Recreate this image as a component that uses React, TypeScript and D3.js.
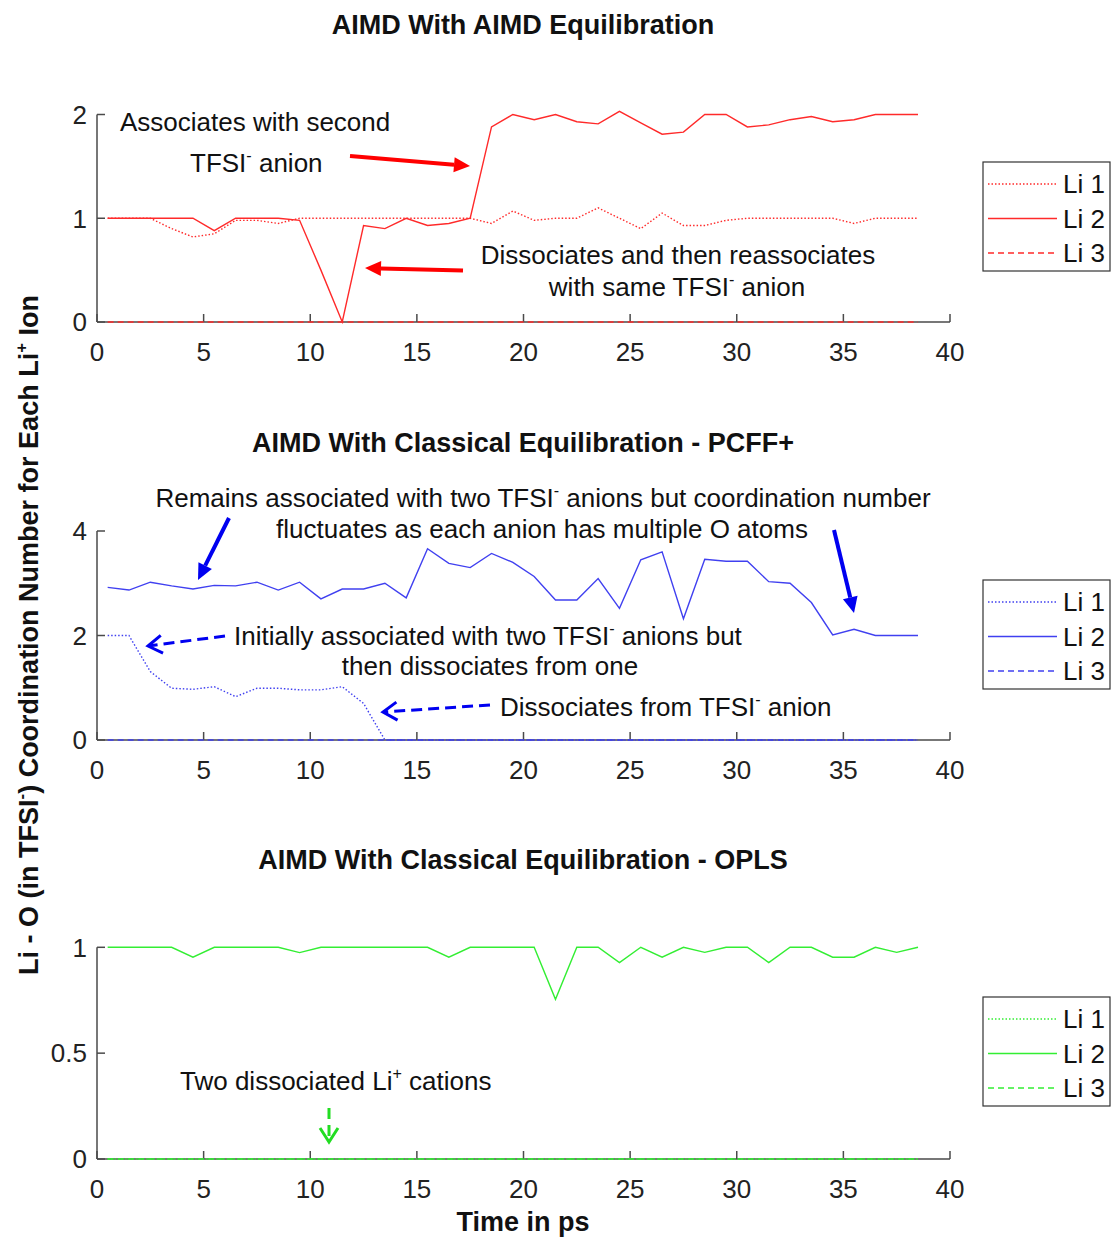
import React from "react";
import * as d3 from "d3";

// ---------- DATA ----------
const TIME = [0.5, 1.5, 2.5, 3.5, 4.5, 5.5, 6.5, 7.5, 8.5, 9.5, 10.5, 11.5, 12.5, 13.5, 14.5, 15.5, 16.5, 17.5, 18.5, 19.5,
  20.5, 21.5, 22.5, 23.5, 24.5, 25.5, 26.5, 27.5, 28.5, 29.5, 30.5, 31.5, 32.5, 33.5, 34.5, 35.5, 36.5, 37.5, 38.5];

const AIMD_LI1 = [1, 1, 1, 0.9, 0.82, 0.85, 0.98, 0.98, 0.95, 1, 1, 1, 1, 1, 1, 1, 1, 1, 0.95, 1.07,
  0.98, 1, 1, 1.1, 1.0, 0.9, 1.05, 0.93, 0.93, 0.98, 1, 1, 1, 1, 1, 0.95, 1, 1, 1];
const AIMD_LI2 = [1, 1, 1, 1, 1, 0.88, 1, 1, 1, 0.98, 0.5, 0, 0.93, 0.9, 1.0, 0.93, 0.95, 1.0, 1.88, 2.0,
  1.95, 2.0, 1.93, 1.91, 2.03, 1.92, 1.81, 1.83, 2.0, 2.0, 1.88, 1.9, 1.95, 1.98, 1.93, 1.95, 2.0, 2.0, 2.0];
const AIMD_LI3 = [0, 0, 0, 0, 0, 0, 0, 0, 0, 0, 0, 0, 0, 0, 0, 0, 0, 0, 0, 0,
  0, 0, 0, 0, 0, 0, 0, 0, 0, 0, 0, 0, 0, 0, 0, 0, 0, 0, 0];

const PCFF_LI1 = [2.0, 2.0, 1.31, 0.99, 0.97, 1.02, 0.83, 0.99, 0.99, 0.96, 0.96, 1.02, 0.7, 0, 0, 0, 0, 0, 0, 0,
  0, 0, 0, 0, 0, 0, 0, 0, 0, 0, 0, 0, 0, 0, 0, 0, 0, 0, 0];
const PCFF_LI2 = [2.92, 2.87, 3.02, 2.95, 2.89, 2.96, 2.95, 3.02, 2.87, 3.02, 2.7, 2.89, 2.89, 3.0, 2.72, 3.66, 3.38, 3.3, 3.57, 3.4,
  3.13, 2.68, 2.68, 3.09, 2.52, 3.45, 3.6, 2.32, 3.46, 3.42, 3.42, 3.03, 3.0, 2.63, 2.01, 2.12, 2.0, 2.0, 2.0];
const PCFF_LI3 = [0, 0, 0, 0, 0, 0, 0, 0, 0, 0, 0, 0, 0, 0, 0, 0, 0, 0, 0, 0,
  0, 0, 0, 0, 0, 0, 0, 0, 0, 0, 0, 0, 0, 0, 0, 0, 0, 0, 0];

const OPLS_LI1 = [0, 0, 0, 0, 0, 0, 0, 0, 0, 0, 0, 0, 0, 0, 0, 0, 0, 0, 0, 0,
  0, 0, 0, 0, 0, 0, 0, 0, 0, 0, 0, 0, 0, 0, 0, 0, 0, 0, 0];
const OPLS_LI2 = [1, 1, 1, 1, 0.953, 1, 1, 1, 1, 0.975, 1, 1, 1, 1, 1, 1, 0.953, 1, 1, 1,
  1, 0.754, 1, 1, 0.928, 1, 0.953, 1, 0.976, 1, 1, 0.928, 1, 1, 0.953, 0.953, 1, 0.976, 1];
const OPLS_LI3 = [0, 0, 0, 0, 0, 0, 0, 0, 0, 0, 0, 0, 0, 0, 0, 0, 0, 0, 0, 0,
  0, 0, 0, 0, 0, 0, 0, 0, 0, 0, 0, 0, 0, 0, 0, 0, 0, 0, 0];

const SERIES_NAMES = ["Li 1", "Li 2", "Li 3"];
const X_TICKS = [0, 5, 10, 15, 20, 25, 30, 35, 40];
const TITLES = [
  "AIMD With AIMD Equilibration",
  "AIMD With Classical Equilibration - PCFF+",
  "AIMD With Classical Equilibration - OPLS",
];
const X_LABEL = "Time in ps";

// ---------- LAYOUT ----------
const FONT = "'Liberation Sans', Arial, Helvetica, sans-serif";
const X_LEFT = 97;
const X_RIGHT = 950;
const FS = 26; // regular text size
const BFS = 27; // bold title size

type Part = [string, boolean?];

const PANELS = [
  {
    title: TITLES[0], titleY: 34, yBottom: 322, yTop: 114.5, domain: [0, 2], ticks: [0, 1, 2],
    color: "#ff2a2a", series: [AIMD_LI1, AIMD_LI2, AIMD_LI3], legendTop: 162,
  },
  {
    title: TITLES[1], titleY: 452, yBottom: 740, yTop: 531, domain: [0, 4], ticks: [0, 2, 4],
    color: "#4040f0", series: [PCFF_LI1, PCFF_LI2, PCFF_LI3], legendTop: 580,
  },
  {
    title: TITLES[2], titleY: 869, yBottom: 1159, yTop: 947.3, domain: [0, 1], ticks: [0, 0.5, 1],
    color: "#33ee33", series: [OPLS_LI1, OPLS_LI2, OPLS_LI3], legendTop: 997,
  },
];

const DASHES = ["1.5,2", undefined, "6,4"];

function Rich({ x, y, parts, size = FS, anchor = "start", weight = "normal", transform }: any) {
  const out: any[] = [];
  let raised = false;
  parts.forEach((p: Part, i: number) => {
    const [txt, sup] = p;
    if (sup) {
      out.push(<tspan key={i} dy={-size * 0.42} fontSize={size * 0.62}>{txt}</tspan>);
      raised = true;
    } else {
      out.push(<tspan key={i} dy={raised ? size * 0.42 : 0}>{txt}</tspan>);
      raised = false;
    }
  });
  return (
    <text x={x} y={y} fontSize={size} textAnchor={anchor} fontWeight={weight} fill="#111" fontFamily={FONT} transform={transform}>
      {out}
    </text>
  );
}

function SolidArrow({ x1, y1, x2, y2, color }: any) {
  const ang = Math.atan2(y2 - y1, x2 - x1);
  const L = 16, W = 7.5;
  const bx = x2 - L * Math.cos(ang), by = y2 - L * Math.sin(ang);
  const px = -Math.sin(ang) * W, py = Math.cos(ang) * W;
  return (
    <g>
      <line x1={x1} y1={y1} x2={bx} y2={by} stroke={color} strokeWidth={4} />
      <polygon points={`${x2},${y2} ${bx + px},${by + py} ${bx - px},${by - py}`} fill={color} />
    </g>
  );
}

function DashedArrow({ x1, y1, x2, y2, color }: any) {
  const ang = Math.atan2(y2 - y1, x2 - x1);
  const L = 14, W = 9;
  const bx = x2 - L * Math.cos(ang), by = y2 - L * Math.sin(ang);
  const px = -Math.sin(ang) * W, py = Math.cos(ang) * W;
  return (
    <g fill="none" stroke={color} strokeWidth={3}>
      <line x1={x1} y1={y1} x2={x2 - 2 * Math.cos(ang)} y2={y2 - 2 * Math.sin(ang)} strokeDasharray="11,6" />
      <polyline points={`${bx + px},${by + py} ${x2},${y2} ${bx - px},${by - py}`} />
    </g>
  );
}

function Panel({ p }: any) {
  const x = d3.scaleLinear().domain([0, 40]).range([X_LEFT, X_RIGHT]);
  const y = d3.scaleLinear().domain(p.domain).range([p.yBottom, p.yTop]);
  const line = d3.line<number>().x((_, i) => x(TIME[i])).y((v) => y(v));
  const axisColor = "#4a4a4a";
  return (
    <g>
      <text x={523} y={p.titleY} textAnchor="middle" fontSize={BFS} fontWeight="bold" fontFamily={FONT} fill="#111">{p.title}</text>
      {/* axes */}
      <line x1={X_LEFT} y1={p.yBottom} x2={X_RIGHT} y2={p.yBottom} stroke={axisColor} strokeWidth={1.5} />
      <line x1={X_LEFT} y1={p.yBottom} x2={X_LEFT} y2={p.yTop} stroke={axisColor} strokeWidth={1.5} />
      {X_TICKS.map((t) => (
        <g key={t}>
          <line x1={x(t)} x2={x(t)} y1={p.yBottom} y2={p.yBottom - 8} stroke={axisColor} strokeWidth={1.5} />
          <text x={x(t)} y={p.yBottom + 39} textAnchor="middle" fontSize={FS} fontFamily={FONT} fill="#222">{t}</text>
        </g>
      ))}
      {p.ticks.map((t: number) => (
        <g key={t}>
          <line x1={X_LEFT} x2={X_LEFT + 8} y1={y(t)} y2={y(t)} stroke={axisColor} strokeWidth={1.5} />
          <text x={X_LEFT - 10} y={y(t) + 9.3} textAnchor="end" fontSize={FS} fontFamily={FONT} fill="#222">{t}</text>
        </g>
      ))}
      {/* series */}
      {p.series.map((s: number[], i: number) => (
        <path key={i} d={line(s) || ""} fill="none" stroke={p.color} strokeWidth={1.4}
          strokeDasharray={DASHES[i]} />
      ))}
      {/* legend */}
      <rect x={983} y={p.legendTop} width={127} height={109} fill="white" stroke="#333" strokeWidth={1.2} />
      {SERIES_NAMES.map((n, i) => {
        const ly = p.legendTop + 22 + i * 34.5;
        return (
          <g key={n}>
            <line x1={988} x2={1057} y1={ly} y2={ly} stroke={p.color} strokeWidth={1.4} strokeDasharray={DASHES[i]} />
            <text x={1063} y={ly + 9.3} fontSize={FS} fontFamily={FONT} fill="#111">{n}</text>
          </g>
        );
      })}
    </g>
  );
}

export default function App() {
  return (
    <svg width={1114} height={1238} style={{ position: "absolute", left: 0, top: 0, background: "white" }}>
      <rect width={1114} height={1238} fill="white" />
      {PANELS.map((p, i) => <Panel key={i} p={p} />)}

      {/* y-axis label */}
      <Rich x={0} y={0} size={27} weight="bold" anchor="middle" transform="translate(38,635) rotate(-90)"
        parts={[["Li - O (in TFSI"], ["-", true], [") Coordination Number for Each Li"], ["+", true], [" Ion"]]} />

      <text x={523} y={1231} textAnchor="middle" fontSize={BFS} fontWeight="bold" fontFamily={FONT} fill="#111">{X_LABEL}</text>

      {/* top annotations */}
      <Rich x={120} y={130.5} parts={[["Associates with second"]]} />
      <Rich x={190} y={171.5} parts={[["TFSI"], ["-", true], [" anion"]]} />
      <Rich x={678} y={263.5} anchor="middle" parts={[["Dissociates and then reassociates"]]} />
      <Rich x={677} y={295.5} anchor="middle" parts={[["with same TFSI"], ["-", true], [" anion"]]} />
      <SolidArrow x1={350} y1={156} x2={470} y2={166} color="#ff0000" />
      <SolidArrow x1={463} y1={270.5} x2={365} y2={268} color="#ff0000" />

      {/* middle annotations */}
      <Rich x={543} y={506.5} anchor="middle" parts={[["Remains associated with two TFSI"], ["-", true], [" anions but coordination number"]]} />
      <Rich x={542} y={537.5} anchor="middle" parts={[["fluctuates as each anion has multiple O atoms"]]} />
      <Rich x={234} y={644.5} parts={[["Initially associated with two TFSI"], ["-", true], [" anions but"]]} />
      <Rich x={490} y={674.5} anchor="middle" parts={[["then dissociates from one"]]} />
      <Rich x={500} y={715.5} parts={[["Dissociates from TFSI"], ["-", true], [" anion"]]} />
      <SolidArrow x1={229} y1={518} x2={198} y2={580} color="#0000f0" />
      <SolidArrow x1={834} y1={530} x2={854} y2={613} color="#0000f0" />
      <DashedArrow x1={225} y1={636} x2={148} y2={646} color="#0000f0" />
      <DashedArrow x1={490} y1={705} x2={383} y2={712} color="#0000f0" />

      {/* bottom annotations */}
      <Rich x={180} y={1089.5} parts={[["Two dissociated Li"], ["+", true], [" cations"]]} />
      <DashedArrow x1={329} y1={1108} x2={329} y2={1142} color="#22dd22" />
    </svg>
  );
}
